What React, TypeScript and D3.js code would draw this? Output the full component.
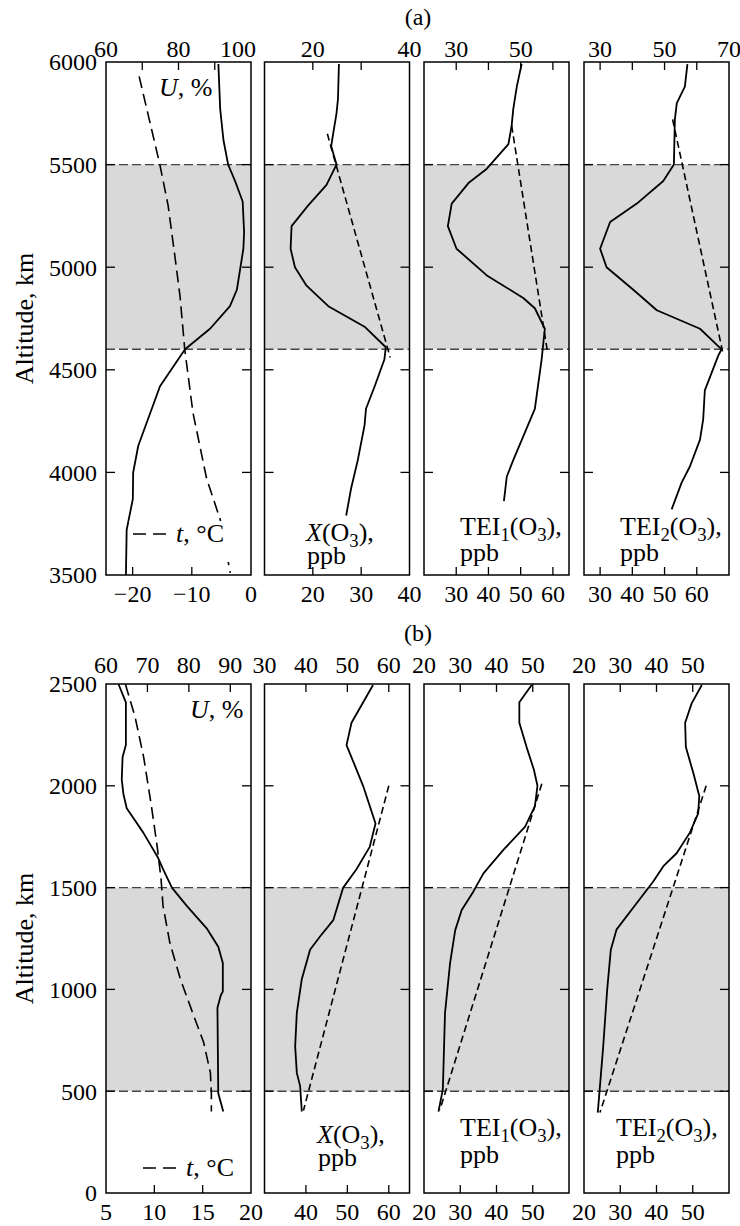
import React, { useEffect, useRef } from "react";
import * as d3 from "d3";

const W = 740;
const H = 1226;
const FONT = "'Liberation Serif', 'Times New Roman', Times, serif";

// ---------- (a) altitude 3500 - 6000 ----------
const aAltU = [5990, 5770, 5620, 5500, 5420, 5320, 5170, 5090, 4990, 4890, 4810, 4700, 4600, 4420, 4130, 4000, 3870, 3720, 3500];
const aU = [91.0, 91.5, 92.4, 93.7, 95.6, 97.7, 98.1, 97.9, 97.0, 96.1, 94.2, 88.7, 81.8, 74.9, 68.9, 67.5, 67.4, 65.7, 65.5];
const aAltT = [5930, 5500, 5300, 5040, 4860, 4700, 4600, 4290, 3970, 3770, 3510];
const aT = [-18.9, -15.4, -14.0, -12.8, -12.0, -11.5, -11.2, -9.8, -7.5, -5.2, -3.5];
const aAltX = [5990, 5820, 5750, 5650, 5590, 5500, 5400, 5300, 5200, 5090, 5000, 4910, 4810, 4710, 4610, 4550, 4420, 4310, 4230, 4060, 3920, 3790];
const aX = [25.4, 25.2, 24.9, 24.2, 23.8, 24.9, 22.8, 19.0, 15.6, 15.4, 16.3, 18.7, 23.2, 30.7, 35.1, 34.8, 32.8, 31.0, 30.7, 29.3, 27.9, 26.9];
const aAltXfit = [5650, 4560];
const aXfit = [23.0, 36.0];
const aAltTei1 = [5990, 5880, 5770, 5690, 5600, 5480, 5410, 5310, 5200, 5090, 4960, 4850, 4800, 4700, 4550, 4310, 4060, 3980, 3860];
const aTei1 = [50.3, 48.8, 47.7, 47.2, 46.2, 39.5, 33.8, 28.6, 27.4, 30.1, 39.5, 50.8, 54.4, 57.5, 56.5, 54.4, 47.7, 45.7, 44.8];
const aAltTei1fit = [5690, 4580];
const aTei1fit = [47.2, 58.4];
const aAltTei2 = [5990, 5880, 5800, 5720, 5500, 5420, 5310, 5220, 5090, 5000, 4890, 4790, 4700, 4600, 4570, 4400, 4260, 4160, 4030, 3950, 3820];
const aTei2 = [57.1, 56.3, 53.8, 53.2, 52.9, 49.6, 41.4, 33.1, 30.0, 32.0, 40.3, 47.6, 61.0, 67.7, 66.7, 62.5, 62.0, 61.0, 57.9, 55.3, 52.2];
const aAltTei2fit = [5720, 4590];
const aTei2fit = [52.5, 68.0];

// ---------- (b) altitude 0 - 2500 ----------
const bAltU = [2500, 2410, 2200, 2140, 2030, 1960, 1890, 1770, 1645, 1590, 1500, 1410, 1300, 1210, 1130, 990, 970, 910, 490, 400];
const bU = [63.0, 64.8, 64.8, 64.0, 63.8, 64.2, 65.0, 69.0, 72.6, 73.8, 75.9, 79.5, 84.3, 87.1, 88.2, 88.2, 87.7, 86.9, 87.1, 88.3];
const bAltT = [2500, 2340, 2140, 1900, 1700, 1540, 1410, 1230, 1050, 880, 740, 590, 490, 400];
const bT = [7.0, 8.0, 8.9, 9.7, 10.3, 10.7, 10.9, 11.6, 12.7, 14.0, 15.1, 15.8, 15.9, 15.9];
const bAltX = [2495, 2310, 2200, 2000, 1815, 1700, 1590, 1500, 1340, 1260, 1195, 1050, 885, 720, 590, 525, 400];
const bX = [56.2, 51.0, 49.8, 53.8, 56.8, 55.4, 52.2, 49.0, 46.6, 43.4, 41.0, 39.0, 37.8, 37.4, 37.8, 38.6, 39.0];
const bAltXfit = [2000, 405];
const bXfit = [60.0, 39.4];
const bAltTei1 = [2495, 2410, 2310, 2190, 2080, 2000, 1900, 1800, 1685, 1570, 1480, 1390, 1290, 1130, 885, 510, 400];
const bTei1 = [49.7, 46.3, 46.3, 48.3, 50.3, 51.3, 50.6, 47.9, 41.9, 36.4, 33.6, 30.4, 28.6, 27.2, 25.8, 25.2, 24.0];
const bAltTei1fit = [2010, 410];
const bTei1fit = [52.5, 24.4];
const bAltTei2 = [2495, 2405, 2310, 2190, 2060, 1950, 1865, 1770, 1670, 1605, 1530, 1295, 1195, 1000, 720, 395];
const bTei2 = [52.5, 49.7, 47.9, 48.1, 50.2, 51.8, 51.5, 49.2, 45.6, 41.9, 39.1, 29.0, 27.4, 26.4, 25.3, 23.8];
const bAltTei2fit = [2000, 395];
const bTei2fit = [53.7, 24.4];

// ---------- axes ----------
const aYTicks = [3500, 4000, 4500, 5000, 5500, 6000];
const bYTicks = [0, 500, 1000, 1500, 2000, 2500];

const aTopTicks = [[70, 80, 90], [20, 30], [30, 40, 50, 60], [30, 40, 50, 60]];
const aTopLabels = [[60, 80, 100], [20, 40], [30, 50], [30, 50, 70]];
const aBotTicks = [[-20, -10], [20, 30], [30, 40, 50, 60], [30, 40, 50, 60]];
const aBotLabels = [[-20, -10, 0], [20, 30, 40], [30, 40, 50, 60], [30, 40, 50, 60]];

const bTopTicks = [[70, 80, 90], [40, 50, 60], [30, 40, 50], [30, 40, 50]];
const bTopLabels = [[60, 70, 80, 90], [30, 40, 50, 60], [20, 30, 40, 50], [20, 30, 40, 50]];
const bBotTicks = [[10, 15], [40, 50, 60], [30, 40, 50], [30, 40, 50]];
const bBotLabels = [[5, 10, 15, 20], [40, 50, 60], [20, 30, 40, 50], [20, 30, 40, 50]];

const PANEL_X = [106, 264.5, 424, 584];
const PANEL_W = 145;

type Seg = { t: string; i?: boolean; sub?: boolean };
const lblU: Seg[] = [{ t: "U", i: true }, { t: ", %" }];
const lblT: Seg[] = [{ t: "t", i: true }, { t: ", °C" }];
const lblX: Seg[] = [{ t: "X", i: true }, { t: "(O" }, { t: "3", sub: true }, { t: ")," }];
const lblTei1: Seg[] = [{ t: "TEI" }, { t: "1", sub: true }, { t: "(O" }, { t: "3", sub: true }, { t: ")," }];
const lblTei2: Seg[] = [{ t: "TEI" }, { t: "2", sub: true }, { t: "(O" }, { t: "3", sub: true }, { t: ")," }];
const lblPpb: Seg[] = [{ t: "ppb" }];

// one <text> element, possibly several lines, with italic and subscript pieces
function rich(g: any, lines: { x: number; y: number; segs: Seg[] }[], size: number) {
  const text = g.append("text").attr("font-size", size).attr("font-family", FONT);
  lines.forEach((ln) => {
    let shifted = false;
    ln.segs.forEach((s, k) => {
      const ts = text.append("tspan").text(s.t);
      if (k === 0) ts.attr("x", ln.x).attr("y", ln.y);
      if (s.i) ts.attr("font-style", "italic");
      if (s.sub) {
        ts.attr("font-size", size * 0.72);
        if (!shifted) ts.attr("dy", 6);
        shifted = true;
      } else if (shifted && k > 0) {
        ts.attr("dy", -6);
        shifted = false;
      }
    });
  });
}

function fmt(v: number) {
  return v < 0 ? "\u2212" + Math.abs(v) : String(v);
}

function drawBlock(svg: any, b: any) {
  const y = d3.scaleLinear().domain(b.altDomain).range([b.bottom, b.top]);
  const g = svg.append("g");

  g.append("text")
    .attr("x", 418).attr("y", b.titleY)
    .attr("text-anchor", "middle").attr("font-size", 24).attr("font-family", FONT)
    .text(b.title);

  g.append("text")
    .attr("transform", `translate(33,${(b.top + b.bottom) / 2}) rotate(-90)`)
    .attr("text-anchor", "middle").attr("font-size", 26).attr("font-family", FONT)
    .text("Altitude, km");

  b.yTicks.forEach((v: number) => {
    g.append("text")
      .attr("x", 97).attr("y", y(v)).attr("dy", "0.35em")
      .attr("text-anchor", "end").attr("font-size", 24).attr("font-family", FONT)
      .text(v);
  });

  b.panels.forEach((p: any, i: number) => {
    const x0 = PANEL_X[i];
    const x1 = x0 + PANEL_W;
    const xt = d3.scaleLinear().domain(p.topDomain).range([x0, x1]);
    const xb = d3.scaleLinear().domain(p.botDomain).range([x0, x1]);
    const pg = g.append("g");

    // shaded layer
    pg.append("rect")
      .attr("x", x0).attr("y", y(b.band[1]))
      .attr("width", PANEL_W).attr("height", y(b.band[0]) - y(b.band[1]))
      .attr("fill", "#d9d9d9");
    b.band.forEach((v: number) => {
      pg.append("line")
        .attr("x1", x0).attr("x2", x1).attr("y1", y(v)).attr("y2", y(v))
        .attr("stroke", "#444").attr("stroke-width", 1.4).attr("stroke-dasharray", "9,4");
    });

    p.curves.forEach((c: any) => {
      const sx = c.axis === "bot" ? xb : xt;
      const pts = c.alt.map((a: number, k: number) => [sx(c.val[k]), y(a)]);
      const line = d3.line();
      pg.append("path")
        .attr("d", line(pts as any))
        .attr("fill", "none").attr("stroke", "#000")
        .attr("stroke-width", c.dash ? 1.6 : 1.8)
        .attr("stroke-linejoin", "round")
        .attr("stroke-dasharray", c.dash || null);
    });

    // frame
    pg.append("rect")
      .attr("x", x0).attr("y", b.top).attr("width", PANEL_W).attr("height", b.bottom - b.top)
      .attr("fill", "none").attr("stroke", "#000").attr("stroke-width", 1.5);

    // y ticks both sides
    b.yTicks.forEach((v: number) => {
      if (v === b.altDomain[0] || v === b.altDomain[1]) return;
      [[x0, x0 + 9], [x1 - 9, x1]].forEach(([a, c]) => {
        pg.append("line").attr("x1", a).attr("x2", c).attr("y1", y(v)).attr("y2", y(v))
          .attr("stroke", "#000").attr("stroke-width", 1.3);
      });
    });

    p.topTicks.forEach((v: number) => {
      pg.append("line").attr("x1", xt(v)).attr("x2", xt(v)).attr("y1", b.top).attr("y2", b.top + 8)
        .attr("stroke", "#000").attr("stroke-width", 1.3);
    });
    p.botTicks.forEach((v: number) => {
      pg.append("line").attr("x1", xb(v)).attr("x2", xb(v)).attr("y1", b.bottom - 8).attr("y2", b.bottom)
        .attr("stroke", "#000").attr("stroke-width", 1.3);
    });

    p.topLabels.forEach((v: number, k: number) => {
      const shift = p.topShift && k === p.topLabels.length - 1 ? p.topShift : 0;
      pg.append("text")
        .attr("x", xt(v) + shift).attr("y", b.top - b.topGap)
        .attr("text-anchor", "middle").attr("font-size", 24).attr("font-family", FONT)
        .text(fmt(v));
    });
    p.botLabels.forEach((v: number) => {
      pg.append("text")
        .attr("x", xb(v)).attr("y", b.bottom + b.botGap)
        .attr("text-anchor", "middle").attr("font-size", 24).attr("font-family", FONT)
        .text(fmt(v));
    });

    if (p.legend) {
      const L = p.legend;
      if (L.mask) {
        pg.append("rect").attr("x", L.mask[0]).attr("y", L.mask[1])
          .attr("width", L.mask[2]).attr("height", L.mask[3]).attr("fill", "#fff");
      }
      pg.append("line").attr("x1", L.x1).attr("x2", L.x2).attr("y1", L.y).attr("y2", L.y)
        .attr("stroke", "#000").attr("stroke-width", 1.6).attr("stroke-dasharray", "13,7");
      rich(pg, [{ x: L.tx, y: L.y + 8, segs: lblT }], 26);
    }
    p.labels.forEach((l: any) => rich(pg, l, 26));
  });
}

const blockA = {
  title: "(a)", titleY: 25, top: 62, bottom: 575, altDomain: [3500, 6000], yTicks: aYTicks,
  band: [4600, 5500], topGap: 5, botGap: 27,
  panels: [
    {
      topDomain: [60, 100], botDomain: [-24.5, 0], topTicks: aTopTicks[0], topLabels: aTopLabels[0],
      botTicks: aBotTicks[0], botLabels: aBotLabels[0], topShift: -13,
      curves: [
        { alt: aAltU, val: aU, axis: "top" },
        { alt: aAltT, val: aT, axis: "bot", dash: "12,6" },
      ],
      legend: { x1: 133, x2: 166, y: 534, tx: 176, mask: [129, 521, 103, 41] },
      labels: [[{ x: 159, y: 96, segs: lblU }]],
    },
    {
      topDomain: [10, 40], botDomain: [10, 40], topTicks: aTopTicks[1], topLabels: aTopLabels[1],
      botTicks: aBotTicks[1], botLabels: aBotLabels[1],
      curves: [
        { alt: aAltX, val: aX, axis: "top" },
        { alt: aAltXfit, val: aXfit, axis: "top", dash: "7,4" },
      ],
      labels: [[{ x: 306, y: 541, segs: lblX }, { x: 307, y: 564, segs: lblPpb }]],
    },
    {
      topDomain: [20, 65], botDomain: [20, 65], topTicks: aTopTicks[2], topLabels: aTopLabels[2],
      botTicks: aBotTicks[2], botLabels: aBotLabels[2],
      curves: [
        { alt: aAltTei1, val: aTei1, axis: "top" },
        { alt: aAltTei1fit, val: aTei1fit, axis: "top", dash: "7,4" },
      ],
      labels: [[{ x: 460, y: 535, segs: lblTei1 }, { x: 460, y: 561, segs: lblPpb }]],
    },
    {
      topDomain: [25, 70], botDomain: [25, 70], topTicks: aTopTicks[3], topLabels: aTopLabels[3],
      botTicks: aBotTicks[3], botLabels: aBotLabels[3],
      curves: [
        { alt: aAltTei2, val: aTei2, axis: "top" },
        { alt: aAltTei2fit, val: aTei2fit, axis: "top", dash: "7,4" },
      ],
      labels: [[{ x: 620, y: 535, segs: lblTei2 }, { x: 620, y: 561, segs: lblPpb }]],
    },
  ],
};

const blockB = {
  title: "(b)", titleY: 641, top: 684, bottom: 1193, altDomain: [0, 2500], yTicks: bYTicks,
  band: [500, 1500], topGap: 11, botGap: 27,
  panels: [
    {
      topDomain: [60, 95], botDomain: [5, 20], topTicks: bTopTicks[0], topLabels: bTopLabels[0],
      botTicks: bBotTicks[0], botLabels: bBotLabels[0],
      curves: [
        { alt: bAltU, val: bU, axis: "top" },
        { alt: bAltT, val: bT, axis: "bot", dash: "12,6" },
      ],
      legend: { x1: 143, x2: 179, y: 1168, tx: 186 },
      labels: [[{ x: 190, y: 718, segs: lblU }]],
    },
    {
      topDomain: [30, 65], botDomain: [30, 65], topTicks: bTopTicks[1], topLabels: bTopLabels[1],
      botTicks: bBotTicks[1], botLabels: bBotLabels[1],
      curves: [
        { alt: bAltX, val: bX, axis: "top" },
        { alt: bAltXfit, val: bXfit, axis: "top", dash: "7,4" },
      ],
      labels: [[{ x: 317, y: 1143, segs: lblX }, { x: 318, y: 1166, segs: lblPpb }]],
    },
    {
      topDomain: [20, 60], botDomain: [20, 60], topTicks: bTopTicks[2], topLabels: bTopLabels[2],
      botTicks: bBotTicks[2], botLabels: bBotLabels[2],
      curves: [
        { alt: bAltTei1, val: bTei1, axis: "top" },
        { alt: bAltTei1fit, val: bTei1fit, axis: "top", dash: "7,4" },
      ],
      labels: [[{ x: 460, y: 1136, segs: lblTei1 }, { x: 460, y: 1163, segs: lblPpb }]],
    },
    {
      topDomain: [20, 60], botDomain: [20, 60], topTicks: bTopTicks[3], topLabels: bTopLabels[3],
      botTicks: bBotTicks[3], botLabels: bBotLabels[3],
      curves: [
        { alt: bAltTei2, val: bTei2, axis: "top" },
        { alt: bAltTei2fit, val: bTei2fit, axis: "top", dash: "7,4" },
      ],
      labels: [[{ x: 616, y: 1136, segs: lblTei2 }, { x: 616, y: 1163, segs: lblPpb }]],
    },
  ],
};

export default function App() {
  const ref = useRef<SVGSVGElement>(null);
  useEffect(() => {
    const svg = d3.select(ref.current);
    svg.selectAll("*").remove();
    svg.append("rect").attr("width", W).attr("height", H).attr("fill", "#fff");
    drawBlock(svg, blockA);
    drawBlock(svg, blockB);
  }, []);
  return (
    <svg
      ref={ref}
      width={W}
      height={H}
      style={{ position: "absolute", left: 0, top: 0, display: "block" }}
    />
  );
}
